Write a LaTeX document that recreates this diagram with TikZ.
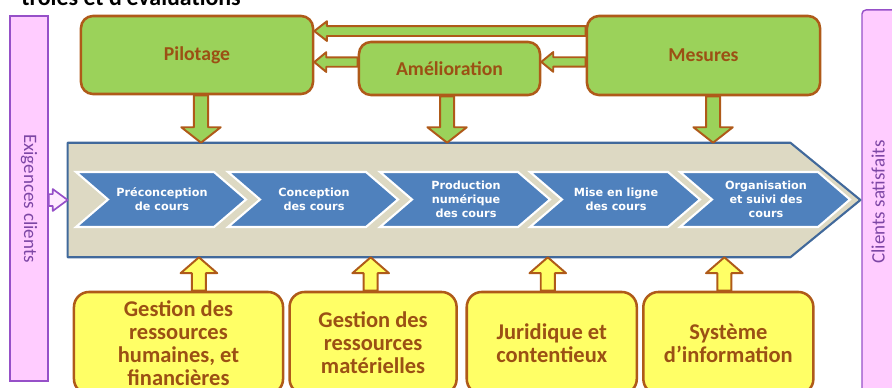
\documentclass[tikz,border=0pt]{standalone}
\usepackage{fontspec}
\setmainfont{Carlito}
\newfontfamily\stepfont{DejaVu Sans}
\usepackage{tikz}
\usetikzlibrary{calc, positioning}

\definecolor{pinkfill}{RGB}{255,204,255}
\definecolor{purpleline}{RGB}{150,80,200}
\definecolor{purpletext}{RGB}{125,70,165}
\definecolor{greenfill}{RGB}{155,210,90}
\definecolor{brownline}{RGB}{175,90,25}
\definecolor{browntext}{RGB}{155,80,20}
\definecolor{yellowfill}{RGB}{255,255,102}
\definecolor{procfill}{RGB}{221,217,195}
\definecolor{procline}{RGB}{65,105,155}
\definecolor{stepfill}{RGB}{79,129,189}

% block arrows drawn as a to path between two points
\tikzset{
    shaftw/.store in=\shaftw, headw/.store in=\headw, headl/.store in=\headl,
    shaftw=5pt, headw=14pt, headl=11pt,
    blockarrow/.style={line join=round, to path={
        ($(\tikztostart)!\shaftw!90:(\tikztotarget)$)
        -- ($(\tikztotarget)!\headl!(\tikztostart)!\shaftw!90:(\tikztotarget)$)
        -- ($(\tikztotarget)!\headl!(\tikztostart)!\headw!90:(\tikztotarget)$)
        -- (\tikztotarget)
        -- ($(\tikztotarget)!\headl!(\tikztostart)!\headw!-90:(\tikztotarget)$)
        -- ($(\tikztotarget)!\headl!(\tikztostart)!\shaftw!-90:(\tikztotarget)$)
        -- ($(\tikztostart)!\shaftw!-90:(\tikztotarget)$) -- cycle}},
}

\begin{document}
\begin{tikzpicture}[
    x=0.025cm, y=-0.025cm,
    titre/.style={font=\fontsize{17}{20}\selectfont\bfseries, inner sep=0pt},
    bar/.style={draw=purpleline, fill=pinkfill, line width=1pt},
    bartext/.style={text=purpletext, font=\fontsize{13.5}{16}\selectfont},
    procshape/.style={draw=procline, fill=procfill, line width=1.5pt, line join=round},
    stepshape/.style={draw=white, fill=stepfill, line width=1.5pt},
    steptext/.style={text=white, align=center, inner sep=0pt, font=\stepfont\bfseries\fontsize{8}{10}\selectfont},
    topbox/.style={draw=brownline, fill=greenfill, line width=1.8pt, rounded corners=0.3cm, text=browntext, font=\fontsize{14}{16}\selectfont\bfseries},
    botbox/.style={draw=brownline, fill=yellowfill, line width=1.8pt, rounded corners=0.375cm, text=browntext, align=center, minimum height=2.55cm, font=\fontsize{16}{16.3}\selectfont\bfseries},
    greenflow/.style={blockarrow, draw=brownline, fill=greenfill, line width=1.4pt},
    yellowflow/.style={blockarrow, draw=brownline, fill=yellowfill, line width=1.4pt, shaftw=5pt, headw=13pt, headl=11.3pt},
    purpleflow/.style={blockarrow, draw=purpleline, fill=pinkfill!40, line width=1.2pt, shaftw=4.2pt, headw=7.8pt, headl=10.6pt}
]
    \useasboundingbox (0,0) rectangle (892,387);

    % Title, cut at the top edge
    \node[titre, anchor=base east] (titre) at (241,6) {trôles et d’évaluations};

    % Client bars
    \node[bar, minimum width=0.95cm, minimum height=9.125cm] (exig) at (29,198.5) {};
    \node[bartext, rotate=-90] (exiglbl) at (exig.center) {Exigences clients};
    \node[bar, rounded corners=0.1cm, minimum width=1.2cm, minimum height=9.75cm] (sat) at (886,205) {};
    \node[bartext, rotate=90] (satlbl) at (878,202) {Clients satisfaits};

    % Process chevron
    \node[minimum width=19.8cm, minimum height=2.85cm, inner sep=0pt] (proc) at (464,200) {};
    \draw[procshape] (proc.north west) -- ([xshift=-1.75cm]proc.north east) -- (proc.east)
        -- ([xshift=-1.75cm]proc.south east) -- (proc.south west) -- cycle;

    % Steps
    \foreach \x/\txt [count=\i] in {76/{Préconception\\de cours}, 228/{Conception\\des cours},
        380/{Production\\numérique\\des cours}, 530/{Mise en ligne\\des cours},
        680/{Organisation\\et suivi des\\cours}} {
        \draw[stepshape] (\x,172) -- ++(138,0) -- ++(32,27.5) -- ++(-32,27.5) -- ++(-138,0) -- ++(32,-27.5) -- cycle;
        \node[steptext] (etape\i) at (\x+86,199.5) {\txt};
    }

    % Top boxes
    \node[topbox, minimum width=5.8cm, minimum height=1.95cm] (pil) at (197,55) {Pilotage};
    \node[topbox, minimum width=4.525cm, minimum height=1.325cm] (ame) at (449.5,68.5) {Amélioration};
    \node[topbox, minimum width=5.825cm, minimum height=1.975cm] (mes) at (703.5,55.5) {Mesures};

    % Arrows between top boxes
    \coordinate (m1) at ([yshift=0.61cm]mes.west);
    \draw[greenflow, shaftw=3.5pt, headw=7pt, headl=9pt] (m1) to (m1 -| pil.east);
    \coordinate (a1) at ([yshift=0.16cm]ame.west);
    \draw[greenflow, shaftw=3.3pt, headw=7pt, headl=8.5pt] (a1) to (a1 -| pil.east);
    \coordinate (m2) at ([yshift=-0.16cm]mes.west);
    \draw[greenflow, shaftw=3.3pt, headw=7pt, headl=8.5pt] (m2) to (m2 -| ame.east);

    % Down arrows to the process
    \coordinate (d1) at ([xshift=0.1cm]pil.south);
    \coordinate (d2) at ([xshift=-0.06cm]ame.south);
    \coordinate (d3) at ([xshift=0.24cm]mes.south);
    \foreach \d in {d1,d2,d3}
        \draw[greenflow] (\d) to (\d |- proc.north);

    % Bottom boxes
    \node[botbox, minimum width=5.225cm] (grh) at (178.5,343) {Gestion des\\ressources\\humaines, et\\financières};
    \node[botbox, minimum width=4.175cm, right=0.1cm of grh] (grm) {Gestion des\\ressources\\matérielles};
    \node[botbox, minimum width=4.25cm, right=0.19cm of grm] (jur) {Juridique et\\contentieux};
    \node[botbox, minimum width=4.25cm, right=0.1cm of jur] (sys) {Système\\d’information};

    % Up arrows to the process
    \coordinate (u1) at ([xshift=0.51cm]grh.north);
    \coordinate (u2) at ([xshift=-0.06cm]grm.north);
    \coordinate (u3) at ([xshift=-0.1cm]jur.north);
    \coordinate (u4) at ([xshift=-0.1cm]sys.north);
    \foreach \u in {u1,u2,u3,u4}
        \draw[yellowflow] (\u) to (\u |- proc.south);

    % Client input
    \coordinate (e1) at (exig.east |- proc.west);
    \draw[purpleflow] (e1) to (proc.west);
\end{tikzpicture}
\end{document}
